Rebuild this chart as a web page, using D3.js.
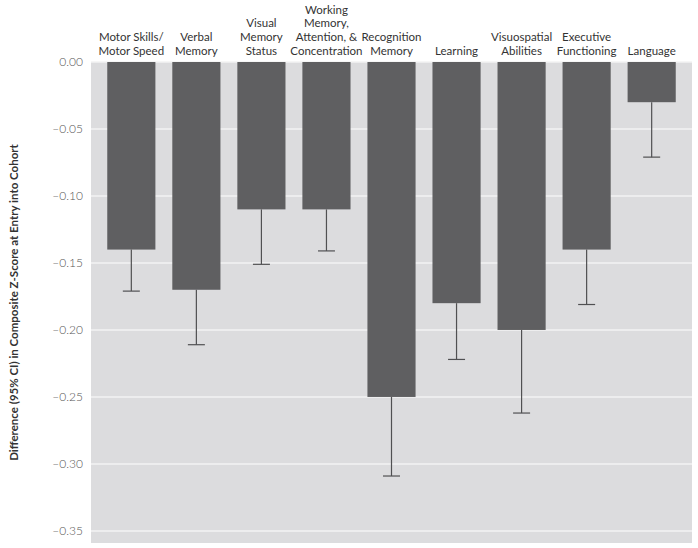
<!DOCTYPE html>
<html><head><meta charset="utf-8">
<script src="https://cdn.jsdelivr.net/npm/d3@7"></script>
<style>body{margin:0;background:#fff;} svg{display:block;}</style>
</head><body>
<svg id="chart" width="698" height="548"></svg>
<script>
const categories = [
  ["Motor Skills/", "Motor Speed"],
  ["Verbal", "Memory"],
  ["Visual", "Memory", "Status"],
  ["Working", "Memory,", "Attention, &", "Concentration"],
  ["Recognition", "Memory"],
  ["Learning"],
  ["Visuospatial", "Abilities"],
  ["Executive", "Functioning"],
  ["Language"]
];
const values = [-0.14, -0.17, -0.11, -0.11, -0.25, -0.18, -0.20, -0.14, -0.03];
const lowerCI = [-0.171, -0.211, -0.151, -0.141, -0.309, -0.222, -0.262, -0.181, -0.071];
const yTicks = [0, -0.05, -0.10, -0.15, -0.20, -0.25, -0.30, -0.35];
const yLabel = "Difference (95% CI) in Composite Z-Score at Entry into Cohort";

const svg = d3.select("#chart");
const m = {left: 91, right: 6, top: 62, bottom: 5};
const W = 698, H = 548;
const font = "Lato, 'Open Sans', 'DejaVu Sans', sans-serif";

const x = d3.scaleBand().domain(d3.range(categories.length))
  .range([m.left, W - m.right]).paddingInner(0.26).paddingOuter(0.25);
const y = d3.scaleLinear().domain([0, -0.359]).range([m.top, H - m.bottom]);

svg.append("rect").attr("x", m.left).attr("y", m.top)
  .attr("width", W - m.right - m.left).attr("height", H - m.bottom - m.top)
  .attr("fill", "#dcdcde");

// grid
svg.append("g").selectAll("line").data(yTicks).join("line")
  .attr("x1", m.left).attr("x2", W - m.right)
  .attr("y1", d => y(d)).attr("y2", d => y(d))
  .attr("stroke", "#f3f3f3").attr("stroke-width", 1.5);

// y axis
const yAxis = d3.axisLeft(y).tickValues(yTicks).tickSize(0).tickPadding(8)
  .tickFormat(d => (d < 0 ? "\u2013" : "") + Math.abs(d).toFixed(2));
const ga = svg.append("g").attr("transform", `translate(${m.left},0)`).call(yAxis);
ga.select(".domain").remove();
ga.selectAll("text").attr("font-family", font).attr("font-size", 12)
  .attr("fill", "#555").attr("font-weight", 300);

// bars
svg.append("g").selectAll("rect").data(values).join("rect")
  .attr("x", (d, i) => x(i)).attr("width", x.bandwidth())
  .attr("y", y(0)).attr("height", d => y(d) - y(0))
  .attr("fill", "#5f5f61");

// error bars
const eb = svg.append("g").attr("stroke", "#505052").attr("stroke-width", 1.2);
values.forEach((v, i) => {
  const cx = x(i) + x.bandwidth() / 2;
  eb.append("line").attr("x1", cx).attr("x2", cx).attr("y1", y(v)).attr("y2", y(lowerCI[i]));
  eb.append("line").attr("x1", cx - 8.5).attr("x2", cx + 8.5).attr("y1", y(lowerCI[i])).attr("y2", y(lowerCI[i]));
});

// category labels
const lh = 13.8;
const cl = svg.append("g");
categories.forEach((lines, i) => {
  const cx = x(i) + x.bandwidth() / 2;
  const t = cl.append("text").attr("text-anchor", "middle")
    .attr("font-family", font).attr("font-size", 11.5).attr("fill", "#333");
  lines.forEach((s, k) => {
    t.append("tspan").attr("x", cx).attr("y", 55 - (lines.length - 1 - k) * lh).text(s);
  });
});

// y label
svg.append("text").attr("transform", `translate(18,${(m.top + H - m.bottom) / 2}) rotate(-90)`)
  .attr("text-anchor", "middle").attr("font-family", font).attr("font-size", 11.5)
  .attr("font-weight", "bold").attr("fill", "#333").text(yLabel);
</script>
</body></html>
